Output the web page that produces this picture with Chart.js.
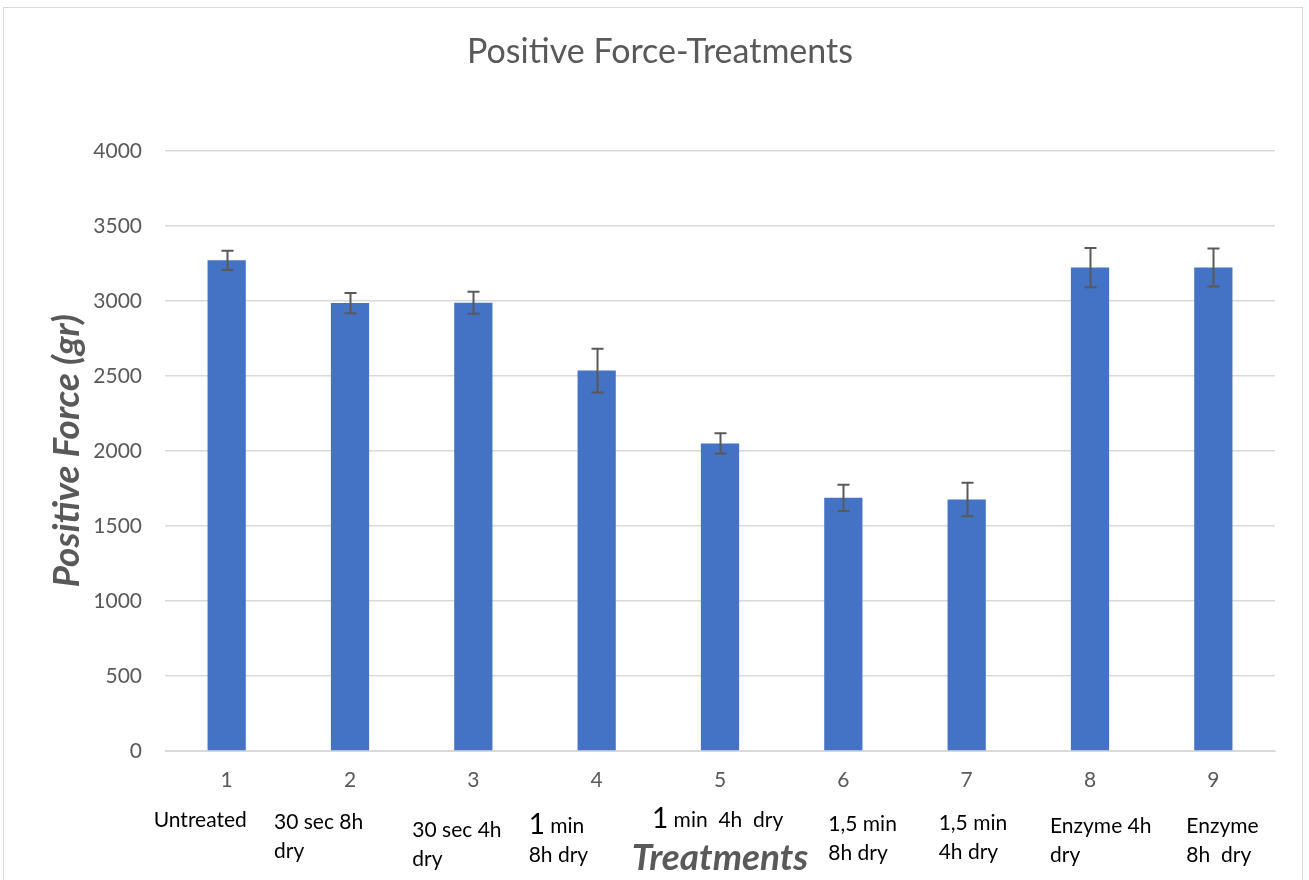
<!DOCTYPE html>
<html>
<head>
<meta charset="utf-8">
<script src="https://cdn.jsdelivr.net/npm/chart.js@4.4.1/dist/chart.umd.min.js"></script>
<style>
  html, body { margin: 0; padding: 0; background: #fff; }
  #wrap { width: 1309px; height: 880px; position: relative; }
</style>
</head>
<body>
<div id="wrap"><canvas id="forceChart" width="1309" height="880"></canvas></div>
<script>
// chart data
const categories = ['1', '2', '3', '4', '5', '6', '7', '8', '9'];
const treatmentNames = [
  ['Untreated'],
  ['30 sec 8h', 'dry'],
  ['30 sec 4h', 'dry'],
  ['1 min', '8h dry'],
  ['1 min  4h  dry'],
  ['1,5 min', '8h dry'],
  ['1,5 min', '4h dry'],
  ['Enzyme 4h', 'dry'],
  ['Enzyme', '8h  dry']
];
const forceValues = [3270, 2985, 2987, 2535, 2050, 1687, 1676, 3222, 3222];
const errorValues = [64, 67, 73, 145, 67, 88, 112, 131, 127];
const yTicks = [0, 500, 1000, 1500, 2000, 2500, 3000, 3500, 4000];

// where the hand-placed treatment text boxes sit (relative to each tick)
const labelDx = [-73, -76, -61, -68, -68, -15, -28, -40, -27];
const labelY = [820, 822, 830, 826, 820, 824, 823, 826, 826];

const FONT = "Lato, 'Open Sans', sans-serif";
const GREY = '#595959';

// frame around the chart
const framePlugin = {
  id: 'frame',
  beforeDraw(chart) {
    const ctx = chart.ctx;
    ctx.save();
    ctx.fillStyle = '#fff';
    ctx.fillRect(0, 0, chart.width, chart.height);
    ctx.strokeStyle = '#D9D9D9';
    ctx.lineWidth = 1;
    ctx.strokeRect(3.5, 7.5, 1299, 900);
    ctx.restore();
  }
};

// error bars drawn from errorValues through the y scale
const errorBarPlugin = {
  id: 'errorBars',
  afterDatasetsDraw(chart) {
    const ctx = chart.ctx;
    const meta = chart.getDatasetMeta(0);
    const y = chart.scales.y;
    ctx.save();
    ctx.strokeStyle = GREY;
    ctx.lineWidth = 2;
    meta.data.forEach((bar, i) => {
      const top = y.getPixelForValue(forceValues[i] + errorValues[i]);
      const bottom = y.getPixelForValue(forceValues[i] - errorValues[i]);
      const x = Math.round(bar.x) + 0.5;
      ctx.beginPath();
      ctx.moveTo(x, top);
      ctx.lineTo(x, bottom);
      ctx.moveTo(x - 6, top);
      ctx.lineTo(x + 6, top);
      ctx.moveTo(x - 6, bottom);
      ctx.lineTo(x + 6, bottom);
      ctx.stroke();
    });
    ctx.restore();
  }
};

// treatment names and the axis title under the numbered ticks
const treatmentLabelPlugin = {
  id: 'treatmentLabels',
  afterDraw(chart) {
    const ctx = chart.ctx;
    const xs = chart.scales.x;
    ctx.save();
    ctx.fillStyle = '#000';
    ctx.textAlign = 'left';
    ctx.textBaseline = 'middle';
    treatmentNames.forEach((lines, i) => {
      const x = xs.getPixelForTick(i) + labelDx[i];
      lines.forEach((line, j) => {
        const ly = labelY[i] + j * 29;
        if (line.startsWith('1 ')) {
          // the leading "1" is typed in a larger size in the original
          ctx.font = '28px ' + FONT;
          ctx.fillText('1', x, ly - 1);
          const w = ctx.measureText('1').width;
          ctx.font = '21px ' + FONT;
          ctx.fillText(line.slice(1), x + w, ly);
        } else {
          ctx.font = '21px ' + FONT;
          ctx.fillText(line, x, ly);
        }
      });
    });
    ctx.fillStyle = GREY;
    ctx.font = 'italic bold 37px ' + FONT;
    ctx.textAlign = 'center';
    ctx.fillText('Treatments', xs.getPixelForTick(4), 858);
    ctx.restore();
  }
};

const ctx = document.getElementById('forceChart').getContext('2d');
const forceChart = new Chart(ctx, {
  type: 'bar',
  data: {
    labels: categories,
    datasets: [{
      label: 'Positive Force',
      data: forceValues,
      backgroundColor: '#4472C4',
      borderWidth: 0,
      categoryPercentage: 1,
      barPercentage: 0.31
    }]
  },
  options: {
    responsive: false,
    animation: false,
    layout: {
      padding: { left: 45, right: 34, top: 0, bottom: 0 }
    },
    plugins: {
      legend: { display: false },
      tooltip: { enabled: false },
      title: {
        display: true,
        text: 'Positive Force-Treatments',
        color: GREY,
        font: { family: FONT, size: 34, weight: 'normal' },
        padding: { top: 32, bottom: 78 }
      }
    },
    scales: {
      x: {
        grid: { display: false, drawTicks: false },
        border: { color: '#D9D9D9', width: 1 },
        ticks: {
          color: GREY,
          font: { family: FONT, size: 21 },
          padding: 17
        },
        afterFit(scale) { scale.height = 129; }
      },
      y: {
        min: 0,
        max: 4000,
        afterBuildTicks(scale) {
          scale.ticks = yTicks.map(v => ({ value: v }));
        },
        grid: { color: '#D9D9D9', lineWidth: 1.5, drawTicks: false },
        border: { display: false },
        ticks: {
          color: GREY,
          font: { family: FONT, size: 21 },
          padding: 23,
          callback: v => String(v)
        },
        title: {
          display: true,
          text: 'Positive Force (gr)',
          color: GREY,
          font: { family: FONT, size: 37, weight: 'bold', style: 'italic' },
          padding: 0
        },
        afterFit(scale) { scale.width = 120; }
      }
    }
  },
  plugins: [framePlugin, errorBarPlugin, treatmentLabelPlugin]
});
</script>
</body>
</html>
